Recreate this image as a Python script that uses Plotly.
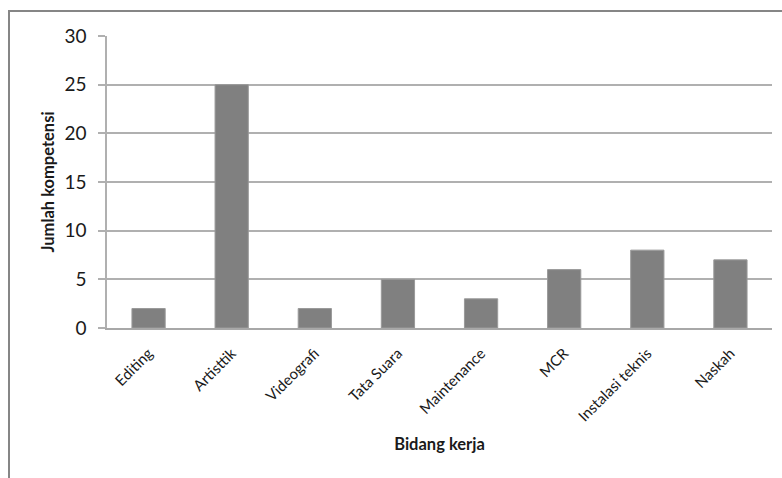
import plotly.graph_objects as go

categories = ["Editing", "Artisttik", "Videografi", "Tata Suara", "Maintenance", "MCR", "Instalasi teknis", "Naskah"]
values = [2, 25, 2, 5, 3, 6, 8, 7]

fig = go.Figure(go.Bar(
    x=categories, y=values,
    marker=dict(color="#808080", line=dict(color="#9a9a9a", width=1)),
    width=0.4,
))

W, H = 782, 478
L, R, T, B = 107, 10, 36, 150
pw, ph = W - L - R, H - T - B

def px(x):
    return (x - L) / pw

def py(y):
    return (H - B - y) / ph

fig.add_shape(type="rect", xref="paper", yref="paper",
              x0=px(9), x1=px(790), y0=py(490), y1=py(11),
              line=dict(color="#868686", width=2), fillcolor="rgba(0,0,0,0)", layer="below")

fig.update_layout(
    width=W, height=H,
    margin=dict(l=L, r=R, t=T, b=B),
    plot_bgcolor="white", paper_bgcolor="white",
    showlegend=False,
    font=dict(family="Lato", color="#1a1a1a"),
    xaxis=dict(
        showgrid=False, showline=True, linecolor="#a8a8a8", linewidth=1.5,
        tickangle=-45, tickfont=dict(size=15),
        ticks="", ticklabelstandoff=9,
        title=dict(text="<b>Bidang kerja</b>", font=dict(size=16.5), standoff=15),
    ),
    yaxis=dict(
        range=[0, 30], dtick=5, showgrid=True, gridcolor="#b0b0b0", gridwidth=1.5,
        showline=True, linecolor="#b0b0b0", linewidth=1.5,
        ticks="outside", ticklen=7, tickcolor="#b0b0b0", tickwidth=1.5,
        tickfont=dict(size=19), zeroline=False, ticklabelstandoff=8,
        title=dict(text="<b>Jumlah kompetensi</b>", font=dict(size=16.5), standoff=6),
    ),
)

fig.write_html("out.html")
